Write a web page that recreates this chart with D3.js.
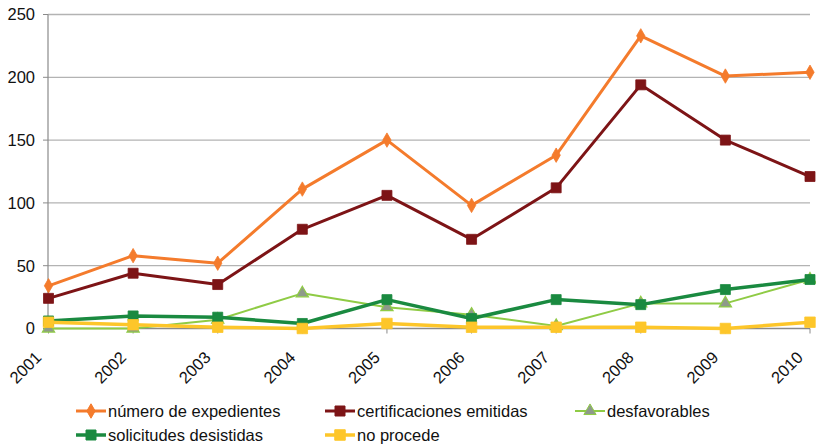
<!DOCTYPE html>
<html><head><meta charset="utf-8">
<script src="https://cdn.jsdelivr.net/npm/d3@7"></script>
<style>body{margin:0;background:#fff}svg{display:block;font-family:"Liberation Sans",Arial,sans-serif}</style>
</head><body><svg id="c" width="816" height="444"></svg>
<script>
const years = ["2001","2002","2003","2004","2005","2006","2007","2008","2009","2010"];
const yTicks = [0,50,100,150,200,250];
const seriesNames = ["número de expedientes","certificaciones emitidas","desfavorables","solicitudes desistidas","no procede"];
const expedientes = [34,58,52,111,150,98,138,233,201,204];
const certificaciones = [24,44,35,79,106,71,112,194,150,121];
const desfavorables = [0,0,7,28,17,11,2,20,20,39];
const desistidas = [6,10,9,4,23,8,23,19,31,39];
const noProcede = [5,3,1,0,4,1,1,1,0,5];

const styles = [
  {color:"#f47b2c", width:3, sym:d3.symbolDiamond, fill:"#f47b2c", size:60},
  {color:"#7d1416", width:3, sym:d3.symbolSquare, fill:"#7d1416", size:100},
  {color:"#8fcb45", width:2, sym:d3.symbolTriangle, fill:"#8e9a8a", size:65},
  {color:"#1a8a40", width:3.5, sym:d3.symbolSquare, fill:"#1a8a40", size:100},
  {color:"#fdc62a", width:3.5, sym:d3.symbolSquare, fill:"#fdc62a", size:110}
];
const data = [expedientes, certificaciones, desfavorables, desistidas, noProcede];

const svg = d3.select("#c");
const x = d3.scalePoint().domain(years).range([48.5, 810]);
const y = d3.scaleLinear().domain([0,250]).range([328.5, 14.5]);

svg.append("g").selectAll("line").data(yTicks.filter(d=>d>0)).join("line")
  .attr("x1",48).attr("x2",810).attr("y1",d=>y(d)).attr("y2",d=>y(d))
  .attr("stroke","#b3b3b3").attr("stroke-width",1.3);

svg.append("line").attr("x1",48).attr("x2",48).attr("y1",y(250)).attr("y2",y(0)+1)
  .attr("stroke","#8a8a8a").attr("stroke-width",1.2);
svg.append("g").selectAll("line").data(yTicks).join("line")
  .attr("x1",43).attr("x2",48).attr("y1",d=>y(d)).attr("y2",d=>y(d)).attr("stroke","#8a8a8a");
svg.append("g").selectAll("text").data(yTicks).join("text")
  .attr("x",35).attr("y",d=>y(d)).attr("dy","0.36em").attr("text-anchor","end")
  .attr("font-size",16.5).attr("fill","#111").text(d=>d);

svg.append("line").attr("x1",48).attr("x2",810).attr("y1",y(0)).attr("y2",y(0))
  .attr("stroke","#8a8a8a").attr("stroke-width",1.3);
svg.append("g").selectAll("line").data(years).join("line")
  .attr("x1",d=>x(d)).attr("x2",d=>x(d)).attr("y1",y(0)).attr("y2",y(0)+5).attr("stroke","#8a8a8a");
svg.append("g").selectAll("text").data(years).join("text")
  .attr("transform",d=>`translate(${x(d)-10},${y(0)+26}) rotate(-45)`)
  .attr("text-anchor","end").attr("dy","0.35em").attr("font-size",16.5).attr("fill","#111").text(d=>d);

const line = d3.line().x((d,i)=>x(years[i])).y(d=>y(d));
data.forEach((vals,k)=>{
  const s = styles[k];
  const g = svg.append("g");
  g.append("path").attr("d",line(vals)).attr("fill","none").attr("stroke",s.color)
    .attr("stroke-width",s.width).attr("stroke-linejoin","round");
  g.selectAll("path.m").data(vals).join("path").attr("class","m")
    .attr("transform",(d,i)=>`translate(${x(years[i])},${y(d)})`)
    .attr("d",d3.symbol().type(s.sym).size(s.size))
    .attr("fill",s.fill).attr("stroke",s.color).attr("stroke-width",k===2?1.2:0.8);
});

const legendPos = [[76,411],[325,411],[575,411],[76,435],[325,435]];
seriesNames.forEach((name,k)=>{
  const s = styles[k];
  const [lx,ly] = legendPos[k];
  const g = svg.append("g");
  g.append("line").attr("x1",lx).attr("x2",lx+30).attr("y1",ly).attr("y2",ly)
    .attr("stroke",s.color).attr("stroke-width",s.width);
  g.append("path").attr("transform",`translate(${lx+15},${ly})`)
    .attr("d",d3.symbol().type(s.sym).size(s.size)).attr("fill",s.fill).attr("stroke",s.color);
  g.append("text").attr("x",lx+32).attr("y",ly).attr("dy","0.35em")
    .attr("font-size",16.5).attr("fill","#111").text(name);
});
</script></body></html>
